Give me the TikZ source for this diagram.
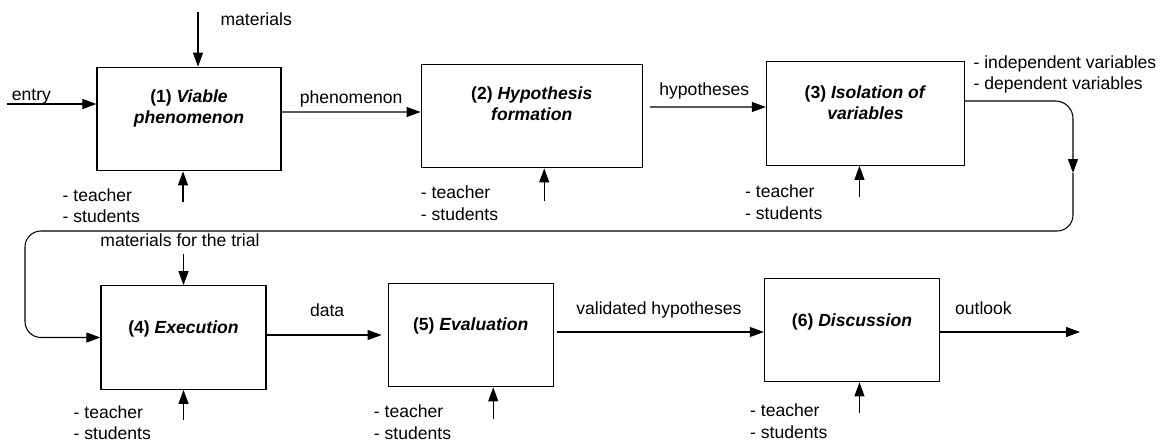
\documentclass[tikz,border=0pt]{standalone}
\usepackage{fontspec}
\setmainfont{Liberation Sans}
\usepackage{tikz}
\usetikzlibrary{arrows.meta,positioning}

\begin{document}
\begin{tikzpicture}[font=\normalsize]
  \tikzstyle{stage}=[draw,line width=0.7pt,minimum height=2.07cm,inner sep=0pt]
  \tikzstyle{title}=[align=center,inner sep=0pt,font=\bfseries]
  \tikzstyle{actor}=[align=left,inner sep=0pt,anchor=north west]
  \tikzstyle{lbl}=[inner sep=0pt,anchor=base]
  \tikzstyle{flow}=[-{Triangle[length=2.8mm,width=2mm]},line width=0.6pt]
  \useasboundingbox (0,0) rectangle (23.32,-8.82);
  % first row of stages
  \node[stage,minimum width=3.68cm] (viable) at (3.78,-2.38) {};
  \node[stage,minimum width=4.42cm,right=2.78cm of viable,yshift=0.06cm] (hypo) {};
  \node[stage,minimum width=3.96cm,right=2.46cm of hypo,yshift=0.05cm] (isol) {};
  % second row of stages
  \node[stage,minimum width=3.30cm] (exec) at (3.67,-6.75) {};
  \node[stage,minimum width=3.30cm,right=2.42cm of exec,yshift=0.05cm] (eval) {};
  \node[stage,minimum width=3.50cm,right=4.20cm of eval,yshift=0.10cm] (disc) {};
  % stage titles, a bit above the centre
  \node[title] (t1) at ([yshift=0.22cm]viable.center) {(1) \textit{Viable}\\\textit{phenomenon}};
  \node[title] (t2) at ([yshift=0.24cm]hypo.center) {(2) \textit{Hypothesis}\\\textit{formation}};
  \node[title] (t3) at ([yshift=0.22cm]isol.center) {(3) \textit{Isolation of}\\\textit{variables}};
  \node[title] (t4) at ([yshift=0.18cm]exec.center) {(4) \textit{Execution}};
  \node[title] (t5) at ([yshift=0.18cm]eval.center) {(5) \textit{Evaluation}};
  \node[title] (t6) at ([yshift=0.16cm]disc.center) {(6) \textit{Discussion}};
  % inputs from outside
  \coordinate (in) at ([xshift=-1.78cm,yshift=0.30cm]viable.west);
  \coordinate (mat) at ([xshift=0.18cm,yshift=1.10cm]viable.north);
  \coordinate (trial) at ([yshift=0.62cm]exec.north);
  \draw[flow] (in) -- node[lbl,pos=0.27,yshift=0.08cm]{entry} ([yshift=0.30cm]viable.west);
  \draw[flow] (mat) -- node[lbl,pos=0,anchor=base west,xshift=0.44cm,yshift=-0.28cm]{materials} (mat |- viable.north);
  \draw[flow] (trial) -- node[lbl,pos=0,xshift=-0.07cm,yshift=0.16cm]{materials for the trial} (exec.north);
  % main flow, first row
  \draw[flow] ([yshift=0.14cm]viable.east) -- node[lbl,yshift=0.18cm]{phenomenon} ([yshift=0.08cm]hypo.west);
  \draw[flow,shorten <=0.14cm] ([yshift=0.18cm]hypo.east) -- node[lbl,yshift=0.23cm]{hypotheses} ([yshift=0.13cm]isol.west);
  % loop back to the second row, arrow halfway down the right side
  \coordinate (loopmid) at (21.46,-3.46);
  \coordinate (loopleft) at (0.50,-4.62);
  \draw[flow,rounded corners=0.35cm] ([yshift=0.25cm]isol.east) -|
    node[pos=0,anchor=south west,inner sep=0pt,align=left,xshift=0.16cm,yshift=0.15cm] (vars)
    {- independent variables\\- dependent variables}
    (loopmid);
  \draw[flow,rounded corners=0.32cm] (loopmid) |- (loopleft) |- (exec.west);
  % main flow, second row
  \draw[flow,shorten >=0.12cm] (exec.east |- eval.west) -- node[lbl,yshift=0.38cm]{data} (eval.west);
  \draw[flow,shorten <=0.06cm] ([yshift=0.06cm]eval.east) -- node[lbl,yshift=0.36cm]{validated hypotheses} ([yshift=0.06cm]eval.east -| disc.west);
  \coordinate (out) at (21.60,-6.64);
  \draw[flow] (disc.east |- out) -- node[lbl,pos=0.31,yshift=0.36cm]{outlook} (out);
  % actors below each stage
  \coordinate (a1) at ([xshift=-0.12cm,yshift=-0.62cm]viable.south);
  \coordinate (a2) at ([xshift=0.25cm,yshift=-0.66cm]hypo.south);
  \coordinate (a3) at ([xshift=-0.12cm,yshift=-0.62cm]isol.south);
  \coordinate (a4) at ([yshift=-0.60cm]exec.south);
  \coordinate (a5) at ([xshift=0.45cm,yshift=-0.64cm]eval.south);
  \coordinate (a6) at ([xshift=0.15cm,yshift=-0.62cm]disc.south);
  \draw[flow] (a1) -- (a1 |- viable.south);
  \draw[flow] (a2) -- (a2 |- hypo.south);
  \draw[flow] (a3) -- (a3 |- isol.south);
  \draw[flow] (a4) -- (exec.south);
  \draw[flow] (a5) -- (a5 |- eval.south);
  \draw[flow] (a6) -- (a6 |- disc.south);
  \node[actor] (who1) at ([shift={(-0.68,-0.34)}]viable.south west) {- teacher\\- students};
  \node[actor] (who2) at ([shift={(0,-0.35)}]hypo.south west) {- teacher\\- students};
  \node[actor] (who3) at ([shift={(-0.42,-0.38)}]isol.south west) {- teacher\\- students};
  \node[actor] (who4) at ([shift={(-0.54,-0.31)}]exec.south west) {- teacher\\- students};
  \node[actor] (who5) at ([shift={(-0.28,-0.35)}]eval.south west) {- teacher\\- students};
  \node[actor] (who6) at ([shift={(-0.28,-0.43)}]disc.south west) {- teacher\\- students};
\end{tikzpicture}
\end{document}
